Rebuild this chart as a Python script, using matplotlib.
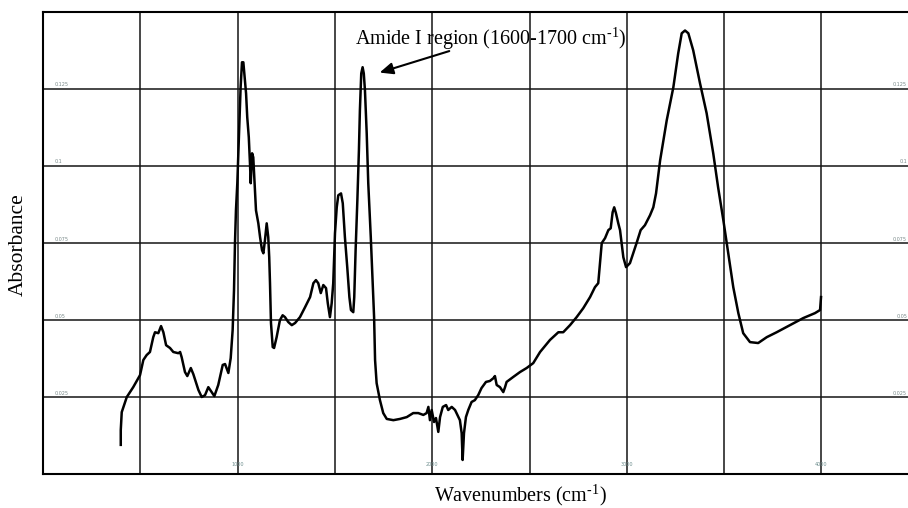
import matplotlib.pyplot as plt
import numpy as np

plt.rcParams['font.family'] = ['Liberation Serif', 'DejaVu Serif']
plt.rcParams['mathtext.fontset'] = 'custom'
plt.rcParams['mathtext.rm'] = 'Liberation Serif'

# FTIR spectrum
wavenumber = [399, 399, 404, 430, 463, 498, 515, 532, 549, 566, 575, 592, 606, 618, 632,
              652, 669, 695, 704, 712, 729, 741, 759, 772, 798, 815, 832, 849, 866, 880,
              900, 923, 935, 952, 964, 974, 981, 986, 991, 998, 1007, 1015, 1022, 1029, 1036,
              1043, 1049, 1057, 1063, 1067, 1074, 1080, 1087, 1094, 1106, 1115, 1125, 1132, 1140, 1149,
              1157, 1162, 1166, 1171, 1180, 1187, 1200, 1217, 1231, 1243, 1260, 1278, 1295, 1320, 1346,
              1372, 1389, 1402, 1414, 1427, 1440, 1454, 1463, 1474, 1483, 1491, 1500, 1509, 1517, 1531,
              1540, 1551, 1563, 1574, 1582, 1594, 1599, 1606, 1615, 1623, 1628, 1635, 1642, 1648, 1654,
              1663, 1671, 1684, 1694, 1701, 1706, 1714, 1731, 1748, 1766, 1800, 1834, 1869, 1902, 1928,
              1954, 1971, 1980, 1988, 1997, 2009, 2019, 2031, 2040, 2054, 2071, 2082, 2100, 2117, 2134,
              2142, 2151, 2156, 2163, 2173, 2185, 2202, 2219, 2236, 2253, 2276, 2296, 2314, 2322, 2331,
              2348, 2365, 2374, 2382, 2416, 2451, 2485, 2519, 2554, 2605, 2648, 2673, 2708, 2742, 2776,
              2811, 2836, 2853, 2862, 2871, 2888, 2905, 2917, 2927, 2935, 2944, 2956, 2965, 2973, 2982,
              2996, 3016, 3033, 3050, 3071, 3093, 3119, 3136, 3150, 3171, 3205, 3239, 3264, 3282, 3299,
              3316, 3341, 3376, 3410, 3444, 3469, 3496, 3521, 3547, 3573, 3598, 3633, 3675, 3719, 3770,
              3838, 3907, 3967, 3993, 3998]
absorbance = [0.0096, 0.0144, 0.0202, 0.0251, 0.0283, 0.0322, 0.0371, 0.0387, 0.0397, 0.0445, 0.0461, 0.0458, 0.0481, 0.0461, 0.0419,
              0.0410, 0.0397, 0.0393, 0.0397, 0.0380, 0.0332, 0.0319, 0.0345, 0.0325, 0.0274, 0.0251, 0.0257, 0.0283, 0.0267, 0.0254,
              0.0290, 0.0355, 0.0358, 0.0329, 0.0377, 0.0468, 0.0597, 0.0750, 0.0856, 0.0944, 0.1106, 0.1255, 0.1336, 0.1336, 0.1287,
              0.1235, 0.1158, 0.1093, 0.1009, 0.0944, 0.1041, 0.1028, 0.0944, 0.0856, 0.0814, 0.0769, 0.0727, 0.0717, 0.0759, 0.0814,
              0.0769, 0.0704, 0.0620, 0.0491, 0.0413, 0.0410, 0.0445, 0.0500, 0.0516, 0.0510, 0.0494, 0.0484, 0.0491, 0.0510, 0.0542,
              0.0575, 0.0620, 0.0630, 0.0620, 0.0588, 0.0614, 0.0604, 0.0555, 0.0510, 0.0555, 0.0620, 0.0782, 0.0866, 0.0905, 0.0911,
              0.0879, 0.0769, 0.0672, 0.0575, 0.0533, 0.0526, 0.0575, 0.0727, 0.0889, 0.1051, 0.1180, 0.1300, 0.1320, 0.1300, 0.1245,
              0.1106, 0.0944, 0.0769, 0.0620, 0.0510, 0.0371, 0.0296, 0.0241, 0.0199, 0.0180, 0.0176, 0.0180, 0.0186, 0.0199, 0.0199,
              0.0193, 0.0199, 0.0219, 0.0176, 0.0209, 0.0170, 0.0183, 0.0138, 0.0186, 0.0219, 0.0225, 0.0209, 0.0219, 0.0209, 0.0186,
              0.0176, 0.0134, 0.0047, 0.0134, 0.0186, 0.0209, 0.0235, 0.0241, 0.0257, 0.0280, 0.0300, 0.0303, 0.0312, 0.0319, 0.0290,
              0.0283, 0.0267, 0.0283, 0.0300, 0.0316, 0.0332, 0.0345, 0.0361, 0.0397, 0.0436, 0.0461, 0.0461, 0.0484, 0.0510, 0.0539,
              0.0575, 0.0607, 0.0620, 0.0685, 0.0750, 0.0766, 0.0792, 0.0798, 0.0850, 0.0866, 0.0847, 0.0814, 0.0792, 0.0750, 0.0704,
              0.0672, 0.0685, 0.0717, 0.0750, 0.0792, 0.0808, 0.0840, 0.0866, 0.0911, 0.1018, 0.1148, 0.1255, 0.1365, 0.1430, 0.1439,
              0.1430, 0.1375, 0.1268, 0.1171, 0.1041, 0.0931, 0.0824, 0.0717, 0.0607, 0.0523, 0.0458, 0.0429, 0.0426, 0.0445, 0.0461,
              0.0484, 0.0507, 0.0523, 0.0533, 0.0575]

x_grid = [500, 1000, 1500, 2000, 2500, 3000, 3500, 4000]
x_tick_labels = {1000: '1000', 2000: '2000', 3000: '3000', 4000: '4000'}
y_grid = [0.025, 0.05, 0.075, 0.1, 0.125]
y_tick_labels = ['0.025', '0.05', '0.075', '0.1', '0.125']


def plot():
    fig = plt.figure(figsize=(9.08, 5.08), dpi=100)
    ax = fig.add_axes([0.0475, 0.066, 0.9525, 0.911])

    ax.plot(wavenumber, absorbance, color='black', linewidth=1.8)

    ax.set_xlim(0, 4445)
    ax.set_ylim(0, 0.15)

    for gx in x_grid:
        ax.axvline(gx, color='#151515', linewidth=1.1, zorder=0)
    for gy in y_grid:
        ax.axhline(gy, color='#151515', linewidth=1.1, zorder=0)

    # tiny labels drawn inside the frame
    for gx, lab in x_tick_labels.items():
        ax.text(gx, 0.0025, lab, fontsize=3.5, color='#6f8f8f', ha='center', va='bottom',
                family='DejaVu Sans')
    for gy, lab in zip(y_grid, y_tick_labels):
        ax.text(60, gy + 0.0005, lab, fontsize=3.5, color='#7a8a8a', ha='left', va='bottom',
                family='DejaVu Sans')
        ax.text(4440, gy + 0.0005, lab, fontsize=3.5, color='#7a8a8a', ha='right', va='bottom',
                family='DejaVu Sans')

    ax.set_xticks([])
    ax.set_yticks([])
    ax.spines['right'].set_visible(False)
    for s in ['left', 'bottom', 'top']:
        ax.spines[s].set_linewidth(1.5)
        ax.spines[s].set_color('black')

    ax.text(1603, 0.1394, 'Amide I region (1600-1700 cm$^{\\text{-1}}$)', fontsize=14.5,
            ha='left', va='baseline')
    ax.annotate('', xy=(1716, 0.1300), xytext=(2101, 0.1375),
                arrowprops=dict(arrowstyle='-|>,head_length=0.8,head_width=0.35',
                                color='black', linewidth=1.5))

    fig.text(520 / 908, 1 - 495 / 508, 'Wavenumbers (cm$^{\\text{-1}}$)', fontsize=14.5,
             ha='center', va='center')
    fig.text(18 / 908, 1 - 245 / 508, 'Absorbance', fontsize=15.5, rotation=90,
             ha='center', va='center')

    fig.savefig('out.png', dpi=100)


def main():
    plot()

if __name__ == "__main__":
    main()
